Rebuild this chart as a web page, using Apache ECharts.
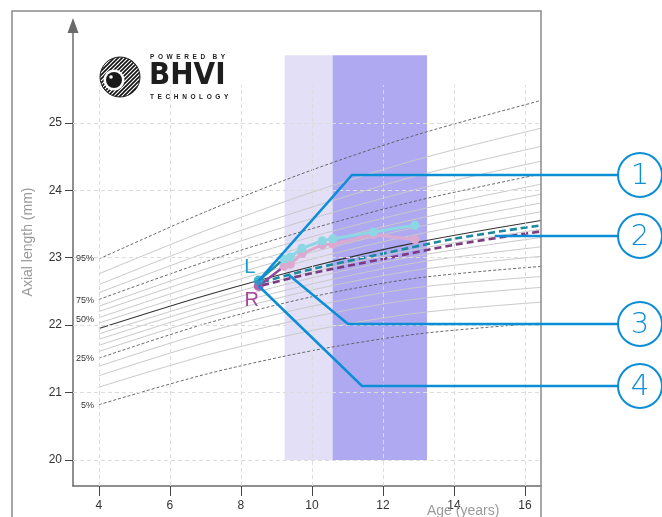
<!DOCTYPE html>
<html>
<head>
<meta charset="utf-8">
<script src="https://cdn.jsdelivr.net/npm/echarts@6/dist/echarts.min.js"></script>
<style>
html,body{margin:0;padding:0;background:#fff;}
#c{width:662px;height:517px;}
</style>
</head>
<body>
<div id="c"></div>
<script>
// ---- percentile reference curves (axial length, mm) ----
const pctAges = [4, 7, 10, 13, 16.45];
const p95 = [22.98, 23.68, 24.30, 24.83, 25.33];
const p90 = [22.76, 23.40, 23.97, 24.46, 24.92];
const p85 = [22.60, 23.22, 23.75, 24.22, 24.65];
const p80 = [22.48, 23.07, 23.58, 24.02, 24.43];
const p75 = [22.38, 22.94, 23.43, 23.85, 24.24];
const p70 = [22.28, 22.83, 23.31, 23.71, 24.09];
const p65 = [22.20, 22.73, 23.19, 23.58, 23.94];
const p60 = [22.11, 22.63, 23.08, 23.46, 23.81];
const p55 = [22.03, 22.53, 22.98, 23.35, 23.68];
const p50 = [21.95, 22.44, 22.87, 23.23, 23.55];
const p45 = [21.87, 22.36, 22.79, 23.13, 23.42];
const p40 = [21.79, 22.28, 22.70, 23.03, 23.30];
const p35 = [21.70, 22.20, 22.61, 22.93, 23.16];
const p30 = [21.61, 22.11, 22.52, 22.82, 23.02];
const p25 = [21.51, 22.02, 22.42, 22.70, 22.87];
const p20 = [21.39, 21.89, 22.28, 22.56, 22.72];
const p15 = [21.25, 21.74, 22.12, 22.39, 22.56];
const p10 = [21.08, 21.55, 21.92, 22.18, 22.34];
const p5  = [20.82, 21.27, 21.62, 21.87, 22.03];
const keyLabels = ['95%', '75%', '50%', '25%', '5%'];
const keyLabelAL = [22.98, 22.37, 22.09, 21.50, 20.81];

// ---- patient data ----
const baselineAge = 8.50;
const baselineL = 22.66;
const baselineR = 22.58;
const visitAges = [9.21, 9.39, 9.72, 10.29, 10.59, 11.73, 12.90];
const leftAL  = [22.98, 23.01, 23.14, 23.25, 23.28, 23.38, 23.48];
const rightAL = [22.87, 22.90, 23.06, 23.19, 23.20, 23.34, 23.27];
const predAges = [8.6, 10, 12, 14, 16.45];
const predL = [22.64, 22.83, 23.06, 23.28, 23.48];
const predR = [22.59, 22.77, 22.98, 23.19, 23.39];

// ---- treatment periods ----
const treatAges = [9.23, 10.58, 13.24];
const bandAL = [20, 26];

// ---- axes ----
const xTicks = [4, 6, 8, 10, 12, 14, 16];
const yTicks = [20, 21, 22, 23, 24, 25];
const xMin = 3.27, xMax = 16.45, yMin = 19.614, yMax = 26.45;
const vGridTop = 25.56;
const calloutNums = ['1', '2', '3', '4'];

const chart = echarts.init(document.getElementById('c'), null, {renderer: 'canvas'});
const FONT = 'Liberation Sans, Arial, sans-serif';
const pair = (xs, ys) => xs.map((x, i) => [x, ys[i]]);

const grayCurves = [p90, p85, p80, p70, p65, p60, p55, p45, p40, p35, p30, p20, p15, p10];
const dashedCurves = [p95, p75, p25, p5];

const series = [];
// bands
series.push({
  type: 'line', data: [], z: 1, silent: true,
  markArea: {
    silent: true,
    data: [
      [{xAxis: treatAges[0], yAxis: bandAL[0], itemStyle: {color: '#e2dff6'}}, {xAxis: treatAges[1], yAxis: bandAL[1]}],
      [{xAxis: treatAges[1], yAxis: bandAL[0], itemStyle: {color: '#afa9f2'}}, {xAxis: treatAges[2], yAxis: bandAL[1]}]
    ]
  }
});
// grid lines
series.push({
  type: 'line', data: [], z: 2, silent: true,
  markLine: {
    silent: true, symbol: ['none', 'none'], label: {show: false},
    lineStyle: {color: '#dcdcdc', type: [4, 3], width: 1},
    data: yTicks.map(v => ({yAxis: v})).concat(
      xTicks.map(v => [{coord: [v, yMin]}, {coord: [v, vGridTop]}]))
  }
});
grayCurves.forEach(c => series.push({
  type: 'line', data: pair(pctAges, c), smooth: 0.3, symbol: 'none', z: 3, silent: true,
  lineStyle: {color: '#c9c9c9', width: 1}
}));
dashedCurves.forEach(c => series.push({
  type: 'line', data: pair(pctAges, c), smooth: 0.3, symbol: 'none', z: 3, silent: true,
  lineStyle: {color: '#5a5a5a', width: 0.9, type: [3, 2]}
}));
series.push({
  type: 'line', data: pair(pctAges, p50), smooth: 0.3, symbol: 'none', z: 3, silent: true,
  lineStyle: {color: '#333', width: 1.1}
});
// predictions
series.push({
  type: 'line', data: pair(predAges, predR), smooth: 0.3, symbol: 'none', z: 4,
  lineStyle: {color: '#7b3b80', width: 2.6, type: [7, 4]}
});
series.push({
  type: 'line', data: pair(predAges, predL), smooth: 0.3, symbol: 'none', z: 4,
  lineStyle: {color: '#1b8a9e', width: 2.6, type: [7, 4]}
});
// baseline to first visit
series.push({
  type: 'line', data: [[baselineAge, baselineR], [visitAges[0], rightAL[0]]], symbol: 'none', z: 5,
  lineStyle: {color: '#94479a', width: 2.5}
});
series.push({
  type: 'line', data: [[baselineAge, baselineL], [visitAges[0], leftAL[0]]], symbol: 'none', z: 5,
  lineStyle: {color: '#1f8fa8', width: 2.5}
});
// visits
series.push({
  type: 'line', data: pair(visitAges, rightAL), symbol: 'circle', symbolSize: 9, z: 5,
  lineStyle: {color: '#dcaad0', width: 3}, itemStyle: {color: '#dcaad0'}
});
series.push({
  type: 'line', data: pair(visitAges, leftAL), symbol: 'circle', symbolSize: 9, z: 6,
  lineStyle: {color: '#8dd7e4', width: 3}, itemStyle: {color: '#8dd7e4'}
});
// baseline points
series.push({
  type: 'scatter', data: [[baselineAge, baselineR]], symbolSize: 10, z: 7,
  itemStyle: {color: '#a3409e'}
});
series.push({
  type: 'scatter', data: [[baselineAge, baselineL]], symbolSize: 10, z: 7,
  itemStyle: {color: '#17a0c9'}
});

chart.setOption({
  animation: false,
  backgroundColor: '#fff',
  grid: {left: 73, right: 121, top: 25, bottom: 31, containLabel: false},
  xAxis: {
    type: 'value', min: xMin, max: xMax,
    axisLine: {show: true, onZero: false, lineStyle: {color: '#6a6a6a', width: 1.5}},
    axisTick: {show: true, customValues: xTicks, length: 10, lineStyle: {color: '#444', width: 1}},
    axisLabel: {customValues: xTicks, margin: 14, color: '#333', fontSize: 12, fontFamily: FONT},
    splitLine: {show: false}
  },
  yAxis: {
    type: 'value', min: yMin, max: yMax,
    axisLine: {show: true, onZero: false, lineStyle: {color: '#6a6a6a', width: 1.5}},
    axisTick: {show: true, customValues: yTicks, length: 8, lineStyle: {color: '#444', width: 1}},
    axisLabel: {customValues: yTicks, margin: 11, color: '#333', fontSize: 12, fontFamily: FONT},
    splitLine: {show: false}
  },
  series: series
});

// ---- annotations ----
const px = (x, y) => chart.convertToPixel({xAxisIndex: 0, yAxisIndex: 0}, [x, y]);
const BLUE = '#0b8ed6';
const g = [];

// frame
g.push({type: 'polyline', shape: {points: [[12, 517], [12, 11], [541, 11], [541, 517]]},
  style: {stroke: '#8a8a8a', lineWidth: 1.5, fill: null}, z: 100});
// y-axis arrow
g.push({type: 'polygon', shape: {points: [[73, 18], [67.5, 33], [78.5, 33]]},
  style: {fill: '#6a6a6a'}, z: 100});
// axis names
g.push({type: 'text', x: 28, y: 242, rotation: Math.PI / 2,
  style: {text: 'Axial length (mm)', fill: '#9a9a9a', font: '14px ' + FONT, textAlign: 'center', textVerticalAlign: 'middle'}, z: 100});
g.push({type: 'text', x: 427, y: 511,
  style: {text: 'Age (years)', fill: '#9a9a9a', font: '14px ' + FONT, textAlign: 'left', textVerticalAlign: 'middle'}, z: 100});

// percentile labels
keyLabels.forEach((t, i) => {
  const p = px(pctAges[0], keyLabelAL[i]);
  g.push({type: 'text', x: p[0] - 5, y: p[1],
    style: {text: t, fill: '#333', font: '9px ' + FONT, textAlign: 'right', textVerticalAlign: 'middle'}, z: 100});
});

// L / R labels
const pL = px(baselineAge, baselineL), pR = px(baselineAge, baselineR);
g.push({type: 'text', x: pL[0] - 9, y: pL[1] - 13,
  style: {text: 'L', fill: '#1a9fcf', font: '20px ' + FONT, textAlign: 'center', textVerticalAlign: 'middle'}, z: 110});
g.push({type: 'text', x: pR[0] - 7, y: pR[1] + 15,
  style: {text: 'R', fill: '#a7479f', font: '20px ' + FONT, textAlign: 'center', textVerticalAlign: 'middle'}, z: 110});

// logo
const pc = document.createElement('canvas');
pc.width = 4; pc.height = 4;
const cx = pc.getContext('2d');
cx.fillStyle = '#fff'; cx.fillRect(0, 0, 4, 4);
cx.strokeStyle = '#111'; cx.lineWidth = 1.6;
cx.beginPath(); cx.moveTo(-1, 5); cx.lineTo(5, -1); cx.stroke();
cx.beginPath(); cx.moveTo(-1, 1); cx.lineTo(1, -1); cx.stroke();
cx.beginPath(); cx.moveTo(3, 5); cx.lineTo(5, 3); cx.stroke();
g.push({type: 'circle', shape: {cx: 120, cy: 77, r: 20}, style: {fill: {image: pc, repeat: 'repeat'}, stroke: '#222', lineWidth: 1}, z: 100});
g.push({type: 'circle', shape: {cx: 114, cy: 80, r: 10.5}, style: {fill: '#fff'}, z: 101});
g.push({type: 'circle', shape: {cx: 114, cy: 80, r: 8}, style: {fill: '#1a1a1a'}, z: 102});
g.push({type: 'circle', shape: {cx: 111, cy: 77, r: 1.8}, style: {fill: '#fff'}, z: 103});
g.push({type: 'text', x: 150, y: 57, style: {text: 'P  O  W  E  R  E  D    B  Y', fill: '#222', font: 'bold 6.5px ' + FONT, textAlign: 'left', textVerticalAlign: 'middle'}, z: 100});
g.push({type: 'text', x: 149, y: 76, style: {text: 'BHVI', fill: '#1e1e1e', font: 'bold 31px DejaVu Sans Condensed, Liberation Sans, sans-serif', textAlign: 'left', textVerticalAlign: 'middle'}, z: 100});
g.push({type: 'text', x: 150, y: 97, style: {text: 'T  E  C  H  N  O  L  O  G  Y', fill: '#222', font: 'bold 6.5px ' + FONT, textAlign: 'left', textVerticalAlign: 'middle'}, z: 100});

// callouts
const circleY = [175, 236, 324, 386];
const circleX = 640, R = 22;
const lineStart3 = px(9.36, 22.74);
const lineStart2 = [px(15.15, 23.3)[0], circleY[1]];
const paths = [
  [pL, [352, circleY[0]], [circleX - R, circleY[0]]],
  [lineStart2, [circleX - R, circleY[1]]],
  [lineStart3, [348, circleY[2]], [circleX - R, circleY[2]]],
  [pR, [362, circleY[3]], [circleX - R, circleY[3]]]
];
paths.forEach(p => g.push({type: 'polyline', shape: {points: p}, style: {stroke: BLUE, lineWidth: 2.5, fill: null}, z: 120}));
calloutNums.forEach((t, i) => {
  g.push({type: 'circle', shape: {cx: circleX, cy: circleY[i], r: R}, style: {fill: '#fff', stroke: BLUE, lineWidth: 2}, z: 121});
  g.push({type: 'text', x: circleX, y: circleY[i] + 1, style: {text: t, fill: BLUE, font: '300 29px DejaVu Sans, sans-serif', textAlign: 'center', textVerticalAlign: 'middle'}, z: 122});
});

chart.setOption({graphic: g});
</script>
</body>
</html>
